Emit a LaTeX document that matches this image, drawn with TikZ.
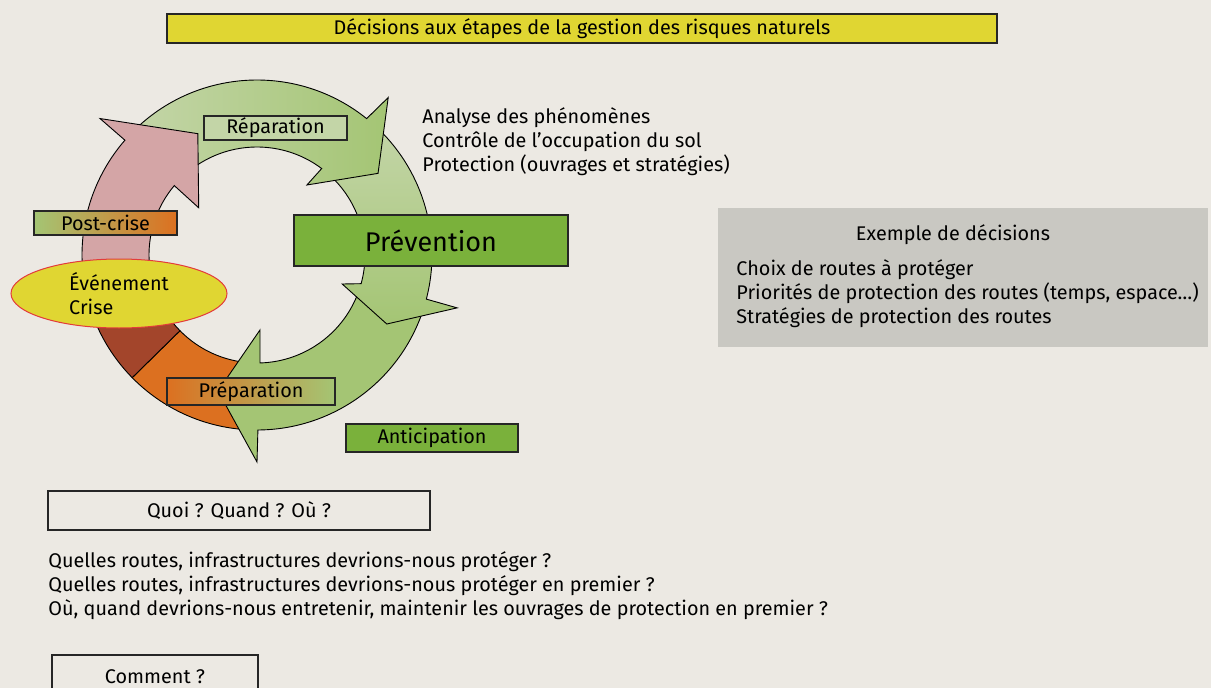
\documentclass[tikz,border=0pt]{standalone}
\usepackage{fontspec}
\setmainfont{Fira Sans}
\usetikzlibrary{shapes.geometric}
\definecolor{fond}{HTML}{ECE9E3}
\definecolor{jaune}{HTML}{E0D632}
\definecolor{vertfort}{HTML}{7AB13B}
\definecolor{vertpale}{HTML}{C3D5A7}
\definecolor{vertmoyen}{HTML}{A4C574}
\definecolor{rose}{HTML}{D4A5A6}
\definecolor{orangecol}{HTML}{DC7020}
\definecolor{brique}{HTML}{A3452B}
\definecolor{gris}{HTML}{C9C8C2}
\definecolor{rougecrise}{HTML}{E33B3B}

\begin{document}
\begin{tikzpicture}[x=1pt,y=1pt,line width=.9pt,font=\fontsize{19.8}{24}\selectfont,
  cadre/.style={draw=black!85,line width=1.1pt,inner sep=0pt},
  fleche/.style={draw=black,line width=.9pt,line join=miter},
  liste/.style={anchor=west,align=left,inner sep=0pt}]
\useasboundingbox (0,0) rectangle (1211,-688);
\clip (0,0) rectangle (1211,-688);
\fill[fond] (0,0) rectangle (1211,-688);
\node[cadre,fill=jaune,minimum width=830,minimum height=29] (titre) at (582,-28.5) {Décisions aux étapes de la gestion des risques naturels};

% le cycle
\begin{scope}[shift={(257,-255)}]
\draw[fleche,fill=orangecol] (-135.5:108) arc[start angle=-135.5,end angle=-93,radius=108] -- (-93:175) arc[start angle=-93,end angle=-135.5,radius=175] -- cycle;
\draw[fleche,fill=brique] (-160:108) arc[start angle=-160,end angle=-135.5,radius=108] -- (-135.5:175) arc[start angle=-135.5,end angle=-160,radius=175] -- cycle;
\draw[fleche,fill=vertmoyen] (-19:108) arc[start angle=-19,end angle=-88.4,radius=108] -- (-87.7:75) -- (-106:141.5) -- (-90:207) -- (-89.7:175) arc[start angle=-89.7,end angle=-19,radius=175] -- cycle;
\draw[fleche,top color=vertpale,bottom color=vertmoyen] (46:108) arc[start angle=46,end angle=-15.4,radius=108] -- (-18.8:90) -- (-28:147) -- (-14.8:207) -- (-14.6:175) arc[start angle=-14.6,end angle=46,radius=175] -- cycle;
\draw[fleche,left color=vertpale,right color=vertmoyen] (134:108) arc[start angle=134,end angle=53.2,radius=108] -- (54.5:86) -- (34:146) -- (50.2:205) -- (51.2:175) arc[start angle=51.2,end angle=134,radius=175] -- cycle;
\draw[fleche,fill=rose] (185:108) arc[start angle=185,end angle=140,radius=108] -- (141:75) -- (116:135) -- (139:208) -- (139:175) arc[start angle=139,end angle=185,radius=175] -- cycle;
\end{scope}

\node[cadre,fill=vertpale,minimum width=143,minimum height=24] (reparation) at (275.5,-128) {Réparation};
\node[cadre,left color=vertmoyen,right color=orangecol,minimum width=143,minimum height=24] (postcrise) at (105.5,-223) {Post-crise};
\node[ellipse,draw=rougecrise,line width=1pt,fill=jaune,minimum width=216,minimum height=69,inner sep=0pt,align=left] (crise) at (119,-293.5) {Événement\\Crise};
\node[cadre,fill=vertfort,minimum width=274,minimum height=51,font=\fontsize{27}{32}\selectfont] (prevention) at (431,-240.5) {Prévention};
\node[cadre,left color=orangecol,right color=vertmoyen,minimum width=168,minimum height=27] (preparation) at (251,-391.5) {Préparation};
\node[cadre,fill=vertfort,minimum width=172,minimum height=28] (anticipation) at (432,-438) {Anticipation};
\node[liste] (mesures) at (422,-142) {Analyse des phénomènes\\Contrôle de l’occupation du sol\\Protection (ouvrages et stratégies)};

% exemple
\node[fill=gris,minimum width=490,minimum height=139,inner sep=0pt] (exemple) at (963,-277.5) {};
\node (exempletitre) at (953,-235) {Exemple de décisions};
\node[liste] (exempleliste) at (736,-294) {Choix de routes à protéger\\Priorités de protection des routes (temps, espace…)\\Stratégies de protection des routes};

% questions
\node[cadre,minimum width=382,minimum height=39] (quoi) at (239,-510.5) {Quoi ? Quand ? Où ?};
\node[liste] (questions) at (48,-586) {Quelles routes, infrastructures devrions-nous protéger ?\\Quelles routes, infrastructures devrions-nous protéger en premier ?\\Où, quand devrions-nous entretenir, maintenir les ouvrages de protection en premier ?};
\node[cadre,minimum width=206,minimum height=44] (comment) at (155,-677) {Comment ?};
\end{tikzpicture}
\end{document}
